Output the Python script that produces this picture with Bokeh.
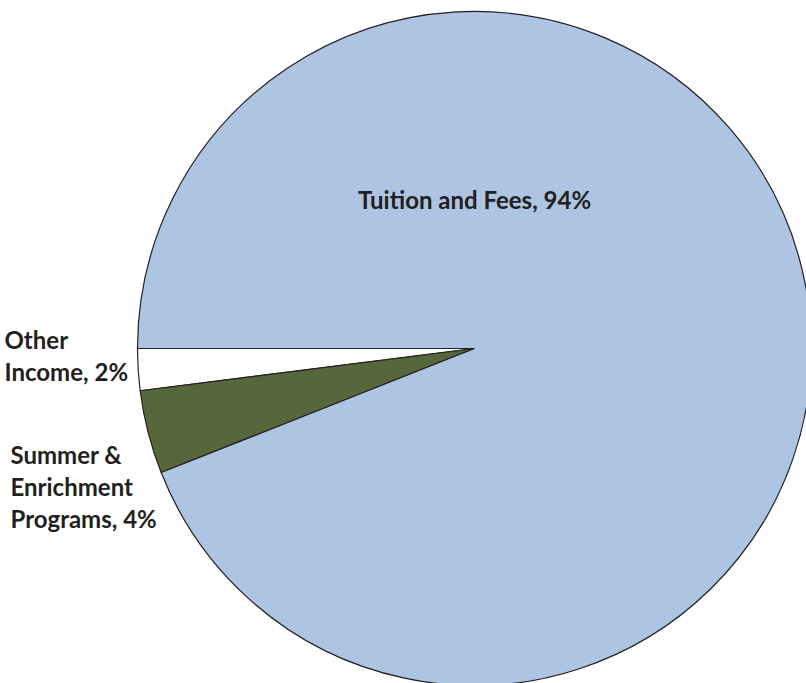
import math
from bokeh.plotting import figure
from bokeh.models import Range1d, ColumnDataSource
from bokeh.core.properties import value
from bokeh.embed import file_html
from bokeh.resources import INLINE

# ---- data ----
categories = ["Other Income", "Summer & Enrichment Programs", "Tuition and Fees"]
shares = [2, 4, 94]
colors = ["#ffffff", "#56673c", "#adc4e3"]

# ---- layout ----
W, H = 806, 683
cx, cy, r = 474, -348, 337
start_deg = 180.0

p = figure(width=W, height=H, output_backend="svg", toolbar_location=None,
           x_range=Range1d(0, W), y_range=Range1d(-H, 0),
           min_border=0, outline_line_color=None)
p.axis.visible = False
p.grid.visible = False
p.background_fill_color = "white"
p.border_fill_color = "white"

total = float(sum(shares))
starts, ends = [], []
acc = 0.0
for s in shares:
    a0 = math.radians(start_deg + 360.0 * acc / total)
    acc += s
    a1 = math.radians(start_deg + 360.0 * acc / total)
    starts.append(a0)
    ends.append(a1)

src = ColumnDataSource(dict(x=[cx] * len(shares), y=[cy] * len(shares),
                            start=starts, end=ends, color=colors))
p.wedge(x="x", y="y", radius=r, start_angle="start", end_angle="end",
        direction="anticlock", fill_color="color", line_color="#231f20",
        line_width=1.2, source=src)

# labels
label_lines = {
    "Other Income": ["Other", "Income, {}%"],
    "Summer & Enrichment Programs": ["Summer &", "Enrichment", "Programs, {}%"],
    "Tuition and Fees": ["Tuition and Fees, {}%"],
}
label_pos = {
    "Other Income": (4, -339, "left"),
    "Summer & Enrichment Programs": (10, -454, "left"),
    "Tuition and Fees": (474, -199, "center"),
}
line_gap = 32
tx, ty, tt, ta = [], [], [], []
for cat, sh in zip(categories, shares):
    x0, y0, al = label_pos[cat]
    for i, ln in enumerate(label_lines[cat]):
        tx.append(x0)
        ty.append(y0 - i * line_gap)
        tt.append(ln.format(sh))
        ta.append(al)

tsrc = ColumnDataSource(dict(x=tx, y=ty, t=tt, a=ta))
p.text(x="x", y="y", text="t", text_align="a", text_baseline="alphabetic",
       text_font=value("Lato"), text_font_style="bold", text_font_size="24px",
       text_color="#231f20", source=tsrc)

open("out.html", "w").write(file_html(p, INLINE))
